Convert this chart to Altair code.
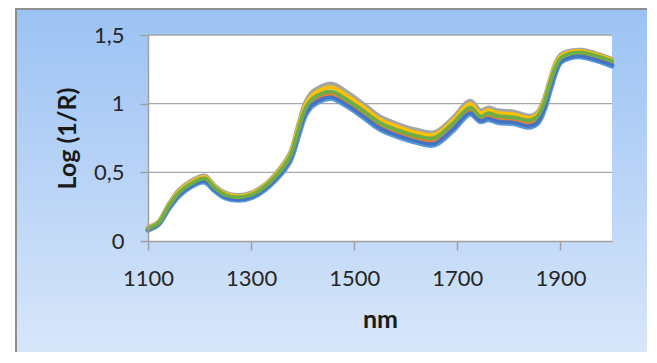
import altair as alt
import pandas as pd

# ---- data ----
wavelength = [1100, 1120, 1140, 1160, 1185, 1210, 1230, 1250, 1275, 1300, 1325, 1350,
              1375, 1392, 1405, 1420, 1455, 1485, 1520, 1550, 1585, 1620, 1655, 1690,
              1725, 1745, 1760, 1778, 1810, 1840, 1855, 1868, 1880, 1890, 1900, 1920,
              1940, 1965, 2000]

s_blue = [0.080, 0.120, 0.235, 0.330, 0.400, 0.430, 0.365, 0.315, 0.298, 0.315, 0.370, 0.455,
          0.580, 0.770, 0.915, 0.988, 1.040, 0.985, 0.895, 0.815, 0.760, 0.720, 0.700, 0.800,
          0.925, 0.870, 0.885, 0.865, 0.855, 0.830, 0.855, 0.950, 1.100, 1.220, 1.300, 1.335,
          1.342, 1.320, 1.275]
s_orange = [0.085, 0.125, 0.243, 0.341, 0.411, 0.444, 0.376, 0.326, 0.309, 0.326, 0.381, 0.469,
            0.597, 0.792, 0.940, 1.016, 1.066, 1.010, 0.920, 0.840, 0.785, 0.745, 0.728, 0.828,
            0.950, 0.889, 0.910, 0.890, 0.880, 0.856, 0.882, 0.978, 1.128, 1.242, 1.316, 1.352,
            1.358, 1.338, 1.294]
s_grey = [0.100, 0.140, 0.265, 0.370, 0.440, 0.475, 0.400, 0.350, 0.333, 0.350, 0.405, 0.500,
          0.635, 0.850, 1.005, 1.088, 1.145, 1.085, 0.990, 0.905, 0.850, 0.810, 0.790, 0.890,
          1.020, 0.950, 0.970, 0.950, 0.940, 0.910, 0.935, 1.030, 1.180, 1.290, 1.355, 1.385,
          1.390, 1.370, 1.325]
s_gold = [0.095, 0.135, 0.258, 0.361, 0.431, 0.466, 0.393, 0.343, 0.326, 0.343, 0.398, 0.491,
          0.624, 0.832, 0.985, 1.066, 1.119, 1.060, 0.968, 0.885, 0.830, 0.790, 0.772, 0.872,
          0.998, 0.930, 0.952, 0.932, 0.922, 0.896, 0.922, 1.017, 1.167, 1.277, 1.344, 1.376,
          1.382, 1.362, 1.318]
s_darkblue = [0.082, 0.122, 0.237, 0.333, 0.403, 0.434, 0.368, 0.318, 0.301, 0.318, 0.373, 0.459,
              0.585, 0.776, 0.922, 0.996, 1.047, 0.992, 0.902, 0.822, 0.767, 0.727, 0.708, 0.808,
              0.932, 0.875, 0.892, 0.872, 0.862, 0.837, 0.862, 0.958, 1.108, 1.226, 1.304, 1.340,
              1.346, 1.325, 1.280]
s_green = [0.090, 0.130, 0.250, 0.350, 0.420, 0.455, 0.385, 0.335, 0.318, 0.335, 0.390, 0.480,
           0.610, 0.810, 0.960, 1.038, 1.088, 1.030, 0.940, 0.860, 0.805, 0.765, 0.750, 0.850,
           0.970, 0.905, 0.930, 0.910, 0.900, 0.878, 0.905, 1.000, 1.150, 1.260, 1.330, 1.365,
           1.372, 1.353, 1.310]

series_names = ["Série 1", "Série 2", "Série 3", "Série 4", "Série 5", "Série 6"]
series_values = [s_blue, s_orange, s_grey, s_gold, s_darkblue, s_green]
series_colors = ["#5B9BD5", "#ED7D31", "#A5A5A5", "#FFC000", "#4472C4", "#70AD47"]
series_widths = [5.5, 4, 4.5, 4, 3.5, 4]

x_ticks = [1100, 1300, 1500, 1700, 1900]
y_ticks = [0, 0.5, 1, 1.5]
grid_values = [0.5, 1, 1.5]

rows = []
for name, vals in zip(series_names, series_values):
    for w, v in zip(wavelength, vals):
        rows.append({"nm": w, "value": v, "series": name})
df = pd.DataFrame(rows)

W, H = 464, 206
x_scale = alt.Scale(domain=[1100, 2000], nice=False, zero=False)
y_scale = alt.Scale(domain=[0, 1.5], nice=False)

axis_grey = "#a0a0a0"
x_axis = alt.Axis(values=x_ticks, format="d", title="nm", grid=False, zindex=1,
                  domainColor=axis_grey, domainWidth=1.5, tickColor=axis_grey, tickWidth=1.5,
                  tickSize=9, labelPadding=18, labelFont="Lato", labelFontSize=22,
                  labelColor="#262626", labelFlush=False, titleFont="Lato", titleFontSize=25,
                  titleFontWeight="bold", titleColor="#1a1a1a", titleY=86,
                  titleBaseline="alphabetic")
y_axis = alt.Axis(values=y_ticks, labelExpr="replace(format(datum.value, '~g'), '.', ',')",
                  title="Log (1/R)", grid=False, zindex=1,
                  domainColor=axis_grey, domainWidth=1.5, tickColor=axis_grey, tickWidth=1.5,
                  tickSize=8, labelPadding=16, labelFont="Lato", labelFontSize=22,
                  labelColor="#262626", titleFont="Lato", titleFontSize=25,
                  titleFontWeight="bold", titleColor="#1a1a1a", titleAngle=270,
                  titleX=-73, titleY=H / 2, titleBaseline="alphabetic", titleAlign="center")

one = alt.Data(values=[{"k": 1}])

background = alt.Chart(one).mark_rect(
    fill=alt.Gradient(gradient="linear", x1=0, y1=0, x2=0, y2=1,
                      stops=[alt.GradientStop(color="#9cc2f4", offset=0),
                             alt.GradientStop(color="#e0ebfa", offset=1)]),
    stroke="#8f8f8f", strokeWidth=2,
).encode(x=alt.value(-132), x2=alt.value(W + 80), y=alt.value(-26), y2=alt.value(H + 160))

plot_bg = alt.Chart(one).mark_rect(fill="white").encode(
    x=alt.value(0), x2=alt.value(W), y=alt.value(0), y2=alt.value(H))

grid = alt.Chart(pd.DataFrame({"g": grid_values})).mark_rule(
    color="#a6a6a6", strokeWidth=1.3).encode(y=alt.Y("g:Q", scale=y_scale, axis=y_axis))

layers = [background, plot_bg, grid]
for name, color, sw in zip(series_names, series_colors, series_widths):
    layers.append(
        alt.Chart(df).transform_filter(alt.datum.series == name).mark_line(
            color=color, strokeWidth=sw, interpolate="catmull-rom",
            strokeCap="round", strokeJoin="round",
        ).encode(
            x=alt.X("nm:Q", scale=x_scale, axis=x_axis),
            y=alt.Y("value:Q", scale=y_scale, axis=y_axis),
        )
    )

chart = alt.layer(*layers).properties(
    width=W, height=H,
    padding={"left": 140, "top": 27, "right": 35, "bottom": 111},
    autosize=alt.AutoSizeParams(type="none"),
).configure_view(stroke="transparent")

chart.save("out.html", embed_options={"renderer": "svg", "actions": False})
